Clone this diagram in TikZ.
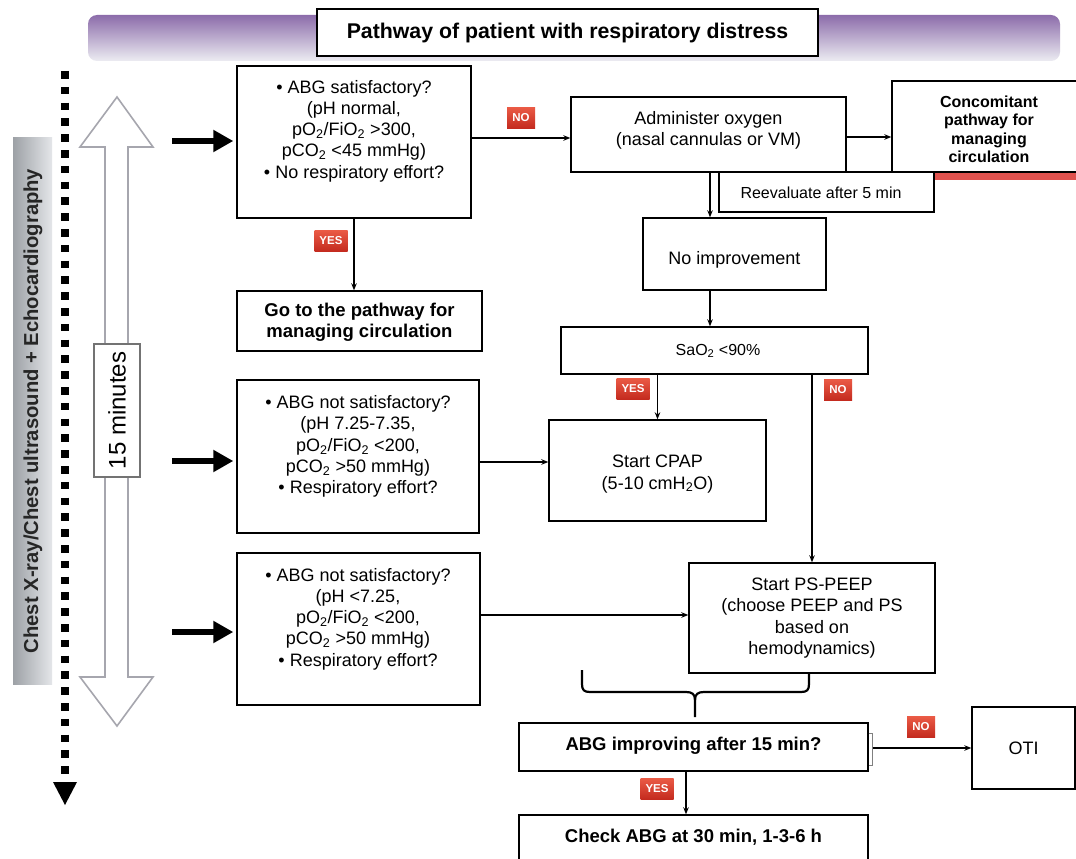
\documentclass[tikz,border=0pt]{standalone}
\usepackage{fontspec}
\setmainfont{Liberation Sans}
\usetikzlibrary{arrows.meta}
\definecolor{bannertop}{HTML}{8C6CAA}
\definecolor{bannerbot}{HTML}{ECECF2}
\definecolor{labtop}{HTML}{EA5A45}
\definecolor{labbot}{HTML}{C32A1E}
\definecolor{barleft}{HTML}{9DA1A6}
\definecolor{barright}{HTML}{E4E6E9}
\definecolor{hollow}{HTML}{A6A6AE}
\definecolor{redbar}{HTML}{E0524E}
\newcommand{\subtwo}{\textsubscript{2}}

\begin{document}
\begin{tikzpicture}[x=1pt,y=-1pt,
  box/.style={draw, line width=1.4pt, fill=white, inner sep=0pt},
  body/.style={font=\fontsize{18}{21.3}\selectfont, align=center, inner sep=0pt},
  bodybf/.style={font=\fontsize{18.5}{21}\selectfont\bfseries, align=center, inner sep=0pt},
  small/.style={font=\fontsize{16}{19}\selectfont, align=center, inner sep=0pt},
  smallbf/.style={font=\fontsize{16}{18.5}\selectfont\bfseries, align=center, inner sep=0pt},
  flag/.style={text=white, font=\fontsize{11.5}{11.5}\selectfont\bfseries, top color=labtop, bottom color=labbot, minimum height=21pt, inner sep=0pt},
  noflag/.style={flag, minimum width=28pt},
  yesflag/.style={flag, minimum width=33pt},
  link/.style={line width=1.3pt, -{Stealth[length=7pt,width=5.5pt]}},
  fat/.style={line width=6.5pt, -{Triangle[length=20pt,width=21pt]}, shorten >=3pt},
  bracestroke/.style={line width=2.2pt},
]
\useasboundingbox (0,0) rectangle (1076,859);
\fill[white] (0,0) rectangle (1076,859);

% header band and title
\shade[top color=bannertop, bottom color=bannerbot, rounded corners=9pt] (88,15) rectangle (1060,61);
\node[box, minimum width=501pt, minimum height=47pt, font=\fontsize{21.3}{24}\selectfont\bfseries] (title) at (567.5,32.5) {Pathway of patient with respiratory distress};

% imaging side bar
\shade[left color=barleft, right color=barright] (13,137) rectangle (52,684);
\node[rotate=90, font=\fontsize{20.2}{24}\selectfont\bfseries, text=black!85] (imaging) at (33,411) {Chest X-ray/Chest ultrasound + Echocardiography};

% dotted time line
\draw[line width=7.5pt, dash pattern=on 7.5pt off 8.3pt] (65,71) -- (65,779);
\fill (53,782) -- (77,782) -- (65,805) -- cycle;

% hollow double arrow with the time window
\draw[hollow, line width=1.6pt, fill=white, line join=miter]
  (117,97) -- (153,147) -- (128,147) -- (128,677) -- (153,677) -- (117,726)
  -- (80,677) -- (105,677) -- (105,147) -- (80,147) -- cycle;
\node[draw=black!55, line width=1.2pt, fill=white, rotate=90, minimum width=133pt, minimum height=46pt, inner sep=0pt, font=\fontsize{24}{28}\selectfont] (minutes) at (117,410.5) {15 minutes};

% boxes
\node[box, minimum width=234pt, minimum height=152pt] (b1) at (354,142) {};
\node[body] (b1t) at (354,131) {• ABG satisfactory?\\(pH normal,\\pO\subtwo/FiO\subtwo{} >300,\\pCO\subtwo{} <45 mmHg)\\• No respiratory effort?};

\node[box, minimum width=245pt, minimum height=60pt] (gopath) at (359.5,321) {};
\node[bodybf] (gopatht) at (359.5,322) {Go to the pathway for\\managing circulation};

\node[box, minimum width=275pt, minimum height=75pt] (admin) at (708.5,134.5) {};
\node[body] (admint) at (708.5,130) {Administer oxygen\\(nasal cannulas or VM)};

\fill[redbar] (893,172.5) rectangle (1080,179.5);
\node[box, minimum width=188pt, minimum height=91pt] (conc) at (986,126.5) {};
\node[smallbf] (conct) at (989,129.5) {Concomitant\\pathway for\\managing\\circulation};

\node[box, minimum width=215pt, minimum height=40pt] (reeval) at (826.5,192) {};
\node[small] (reevalt) at (821,193) {Reevaluate after 5 min};

\node[box, minimum width=183pt, minimum height=72pt] (noimp) at (734.5,254) {};
\node[body] (noimpt) at (734.5,260) {No improvement};

\node[box, minimum width=307pt, minimum height=47pt] (sao2) at (714.5,350.5) {};
\node[small] (sao2t) at (718,351) {SaO\subtwo{} <90\%};

\node[box, minimum width=217pt, minimum height=101pt] (cpap) at (657.5,470.5) {};
\node[body] (cpapt) at (657.5,474) {Start CPAP\\(5-10 cmH\subtwo O)};

\node[box, minimum width=242pt, minimum height=153pt] (b3) at (358,456.5) {};
\node[body] (b3t) at (358,446.5) {• ABG not satisfactory?\\(pH 7.25-7.35,\\pO\subtwo/FiO\subtwo{} <200,\\pCO\subtwo{} >50 mmHg)\\• Respiratory effort?};

\node[box, minimum width=243pt, minimum height=152pt] (b4) at (358.5,629) {};
\node[body] (b4t) at (358,619) {• ABG not satisfactory?\\(pH <7.25,\\pO\subtwo/FiO\subtwo{} <200,\\pCO\subtwo{} >50 mmHg)\\• Respiratory effort?};

\node[box, minimum width=246pt, minimum height=110pt] (pspeep) at (812,618) {};
\node[body] (pspeept) at (812,618) {Start PS-PEEP\\(choose PEEP and PS\\based on\\hemodynamics)};

\node[box, minimum width=349pt, minimum height=48pt] (abgimp) at (693.5,747) {};
\node[bodybf] (abgimpt) at (693.5,746) {ABG improving after 15 min?};

\node[box, minimum width=103pt, minimum height=82pt] (oti) at (1023.5,748) {};
\node[body] (otit) at (1023.5,748) {OTI};

\node[box, minimum width=349pt, minimum height=54pt] (check) at (693.5,842) {};
\node[bodybf] (checkt) at (693.5,837) {Check ABG at 30 min, 1-3-6 h};

% entry arrows from the time line
\coordinate (s1) at (172,141);
\coordinate (s3) at (172,461);
\coordinate (s4) at (172,632);
\draw[fat] (s1) -- (s1 -| b1.west);
\draw[fat] (s3) -- (s3 -| b3.west);
\draw[fat] (s4) -- (s4 -| b4.west);

% connectors
\coordinate (r138) at (0,138);
\coordinate (r137) at (0,137);
\coordinate (r462) at (0,462);
\coordinate (r615) at (0,615);
\coordinate (c710) at (710,0);
\coordinate (c686) at (686,0);

\draw[link] (b1.east |- r138) -- (admin.west |- r138);
\draw[link] (admin.east |- r137) -- (conc.west |- r137);
\draw[link] (b1.south) -- (b1.south |- gopath.north);
\draw[link] (admin.south -| c710) -- (noimp.north -| c710);
\draw[link] (noimp.south -| c710) -- (sao2.north -| c710);
\draw[link] (cpap.north |- sao2.south) -- (cpap.north);
\draw[link] (pspeep.north |- sao2.south) -- (pspeep.north);
\draw[link] (b3.east |- r462) -- (cpap.west |- r462);
\draw[link] (b4.east |- r615) -- (pspeep.west |- r615);

% brace gathering the two ventilation branches
\draw[bracestroke] (582,670) -- (582,684) .. controls (582,690) and (584,692) .. (590,692)
  -- (686,692) .. controls (692,692) and (695,694) .. (695,700) -- (695,717);
\draw[bracestroke] (809,673) -- (809,684) .. controls (809,690) and (807,692) .. (801,692)
  -- (704,692) .. controls (698,692) and (695,694) .. (695,700);

% outcome branches
\draw[gray, line width=1pt] ([yshift=14pt]abgimp.east) -- ++(4,0) -- ++(0,32) -- ++(-4,0);
\coordinate (otiin) at ([xshift=4pt]abgimp.east);
\draw[link] (otiin |- oti.west) -- (oti.west);
\draw[link] (abgimp.south -| c686) -- (check.north -| c686);

% decision flags
\node[noflag] (no1) at (521,118) {NO};
\node[yesflag] (yes1) at (331,241) {YES};
\node[yesflag] (yes2) at (633,389) {YES};
\node[noflag] (no2) at (838,390) {NO};
\node[noflag] (no3) at (921,727) {NO};
\node[yesflag] (yes3) at (657,789) {YES};
\end{tikzpicture}
\end{document}
